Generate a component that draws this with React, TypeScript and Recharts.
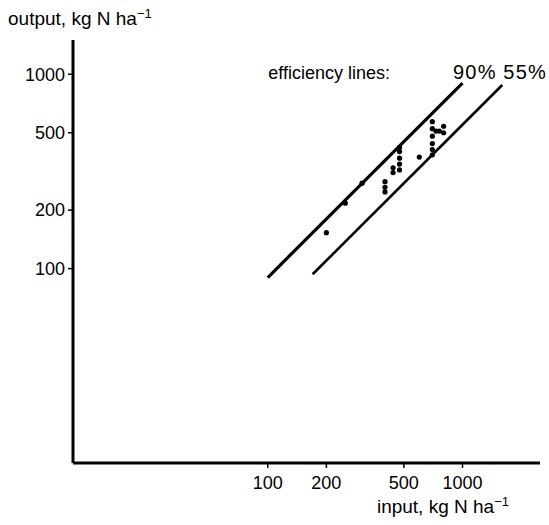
import React from 'react';
import { ScatterChart, Scatter, XAxis, YAxis, ReferenceLine } from 'recharts';

const xTicks = [100, 200, 500, 1000];
const yTicks = [100, 200, 500, 1000];

const inputValues = [200, 250, 305, 400, 400, 400, 440, 440, 475, 475, 475, 475, 475, 600, 700, 700, 700, 700, 700, 700, 730, 760, 800, 800];
const outputValues = [153, 217, 275, 280, 262, 248, 330, 312, 420, 400, 370, 345, 322, 375, 570, 525, 480, 440, 410, 385, 510, 510, 540, 500];

const line90Input = [100, 1000];
const line90Output = [90, 900];
const line55Input = [170, 1600];
const line55Output = [93.5, 880];

const points = inputValues.map((x, i) => ({ x, y: outputValues[i] }));
const seg90 = line90Input.map((x, i) => ({ x, y: line90Output[i] }));
const seg55 = line55Input.map((x, i) => ({ x, y: line55Output[i] }));

const FONT = '"Liberation Sans", Arial, Helvetica, sans-serif';

const Dot = (props: any) => {
  const { cx, cy } = props;
  if (cx == null || cy == null) return null;
  return <circle cx={cx} cy={cy} r={2.6} fill="#000" />;
};

export default function App() {
  const W = 549;
  const H = 525;
  return (
    <div style={{ position: 'absolute', left: 0, top: 0, width: W, height: H, background: '#fff' }}>
      <ScatterChart width={W} height={H} margin={{ top: 40, right: 9, bottom: 32, left: 13 }}>
        <XAxis
          type="number"
          dataKey="x"
          scale="log"
          domain={[10, 2500]}
          ticks={xTicks}
          allowDataOverflow
          height={30}
          tickSize={5}
          tickMargin={8}
          axisLine={{ stroke: '#000', strokeWidth: 3 }}
          tickLine={{ stroke: '#000', strokeWidth: 1.5 }}
          tick={{ fill: '#000', fontSize: 18, fontFamily: FONT }}
        />
        <YAxis
          type="number"
          dataKey="y"
          scale="log"
          domain={[10, 1500]}
          ticks={yTicks}
          allowDataOverflow
          width={60}
          tickSize={5}
          tickMargin={3}
          axisLine={{ stroke: '#000', strokeWidth: 3 }}
          tickLine={{ stroke: '#000', strokeWidth: 1.5 }}
          tick={{ fill: '#000', fontSize: 18, fontFamily: FONT }}
        />
        <ReferenceLine segment={seg90} stroke="#000" strokeWidth={3.2} ifOverflow="visible" />
        <ReferenceLine segment={seg55} stroke="#000" strokeWidth={2.6} ifOverflow="visible" />
        <Scatter data={points} shape={<Dot />} isAnimationActive={false} />
      </ScatterChart>
      <svg width={W} height={H} style={{ position: 'absolute', left: 0, top: 0, pointerEvents: 'none' }}>
        <text x={8} y={25} fontSize={19} fontFamily={FONT} fill="#000">
          output, kg N ha<tspan dy={-7} fontSize={13}>−1</tspan>
        </text>
        <text x={390} y={79} fontSize={18} fontFamily={FONT} fill="#000" textAnchor="end">efficiency lines:</text>
        <text x={547} y={79} fontSize={20} letterSpacing={1.2} fontFamily={FONT} fill="#000" textAnchor="end">90% 55%</text>
        <text x={509} y={513} fontSize={19} fontFamily={FONT} fill="#000" textAnchor="end">
          input, kg N ha<tspan dy={-7} fontSize={13}>−1</tspan>
        </text>
      </svg>
    </div>
  );
}
